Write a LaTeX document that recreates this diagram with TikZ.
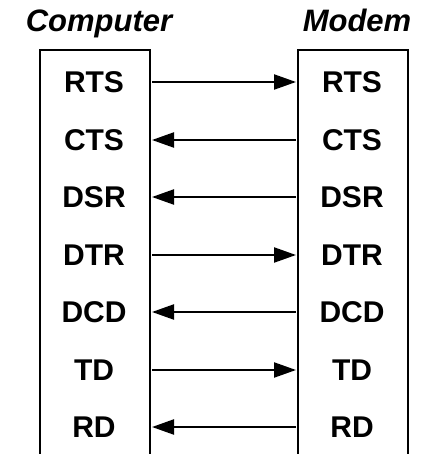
\documentclass[tikz,border=0pt]{standalone}
\usepackage{fontspec}
\setmainfont{Liberation Sans}
\usetikzlibrary{arrows.meta}
\begin{document}
\begin{tikzpicture}[x=1pt,y=-1pt,
  boxline/.style={line width=2.6pt, line join=miter},
  sig/.style={font=\bfseries\fontsize{30}{34}\selectfont, inner sep=0pt},
  ttl/.style={font=\bfseries\itshape\fontsize{31}{35}\selectfont, inner sep=0pt, anchor=base},
  conn/.style={line width=2.2pt, -{Triangle[length=22pt,width=15pt]}, shorten >=2pt, shorten <=2pt}]
\useasboundingbox (0,0) rectangle (420,454);
% titles
\node[ttl] (tc) at (99,32) {Computer};
\node[ttl] (tm) at (357,32) {Modem};
% boxes (open at bottom)
\draw[boxline] (40,458) -- (40,50) -- (150,50) -- (150,458);
\draw[boxline] (298,458) -- (298,50) -- (408,50) -- (408,458);
\coordinate (Le) at (150,0);
\coordinate (Re) at (298,0);
% labels
\foreach \t/\n/\y in {RTS/1/82,CTS/2/140,DSR/3/197,DTR/4/255,DCD/5/312,TD/6/370,RD/7/427}{
  \node[sig] (l\n) at (94,\y) {\t};
  \node[sig] (r\n) at (352,\y) {\t};
}
% connectors
\draw[conn] (l1 -| Le) -- (r1 -| Re);
\draw[conn] (r2 -| Re) -- (l2 -| Le);
\draw[conn] (r3 -| Re) -- (l3 -| Le);
\draw[conn] (l4 -| Le) -- (r4 -| Re);
\draw[conn] (r5 -| Re) -- (l5 -| Le);
\draw[conn] (l6 -| Le) -- (r6 -| Re);
\draw[conn] (r7 -| Re) -- (l7 -| Le);
\end{tikzpicture}
\end{document}
